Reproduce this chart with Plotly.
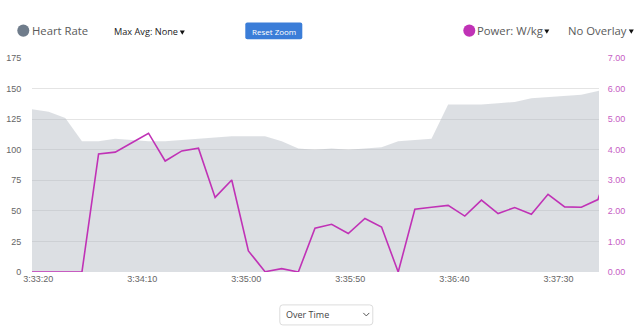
import datetime as dt
import plotly.graph_objects as go

# --- data: one sample every 8 seconds ---
start_time = dt.datetime(2024, 1, 1, 3, 33, 17)
sample_step_s = 8
heart_rate = [133, 131, 126, 107, 107, 109, 108, 107, 107, 108, 109, 110,
              111, 111, 111, 107, 101, 100, 101, 100, 101, 102, 107, 108,
              109, 137, 137, 137, 138, 139, 142, 143, 144, 145, 148, 150]
power_wkg = [0.00, 0.00, 0.00, 0.00, 3.86, 3.92, 4.23, 4.54, 3.63, 3.96,
             4.05, 2.44, 3.01, 0.69, 0.01, 0.11, 0.00, 1.43, 1.56, 1.26,
             1.75, 1.47, 0.00, 2.05, 2.12, 2.18, 1.83, 2.35, 1.91, 2.11,
             1.89, 2.54, 2.13, 2.12, 2.37, 4.00]
hr_ticks = [0, 25, 50, 75, 100, 125, 150, 175]
power_ticks = [0, 1, 2, 3, 4, 5, 6, 7]
time_tick_start = dt.datetime(2024, 1, 1, 3, 33, 20)
time_tick_step_s = 50

times = [start_time + dt.timedelta(seconds=sample_step_s * i) for i in range(len(heart_rate))]
view_end = times[-2] + dt.timedelta(seconds=0.5)

W, H = 640, 330
ML, MR, MT, MB = 31.7, 41.3, 58.3, 58.3
PW, PH = W - ML - MR, H - MT - MB


def px(x):
    return (x - ML) / PW


def py(y):
    return (H - MB - y) / PH


HEART_GREY = "#6f7c8b"
POWER_PURPLE = "#c032b6"
FONT = "Open Sans, Noto Sans, sans-serif"
AXIS_FONT = "Liberation Sans, Arial, sans-serif"
TEXT_PAD = 2.5  # annotation boxes add a little padding around their text

fig = go.Figure()

fig.add_trace(go.Scatter(
    x=times, y=heart_rate, name="Heart Rate", mode="lines",
    line=dict(width=0, color="rgba(0,0,0,0)"),
    fill="tozeroy", fillcolor="rgba(178,184,194,0.45)",
    hoverinfo="skip", yaxis="y",
))
fig.add_trace(go.Scatter(
    x=times, y=power_wkg, name="Power: W/kg", mode="lines",
    line=dict(width=1.6, color=POWER_PURPLE),
    yaxis="y2",
))

fig.update_layout(
    width=W, height=H,
    margin=dict(l=ML, r=MR, t=MT, b=MB, pad=0, autoexpand=False),
    paper_bgcolor="white", plot_bgcolor="white",
    showlegend=False,
    font=dict(family=AXIS_FONT, size=9, color="#666"),
    xaxis=dict(
        type="date", range=[times[0], view_end], automargin=False,
        tick0=time_tick_start, dtick=time_tick_step_s * 1000,
        tickformat="%-H:%M:%S", showgrid=False, zeroline=False,
        showline=False, ticks="",
        tickfont=dict(family=AXIS_FONT, size=9, color="#666"),
        fixedrange=True,
    ),
    yaxis=dict(
        range=[0, 175], tickvals=hr_ticks, showgrid=True, automargin=False,
        gridcolor="#e4e4e4", gridwidth=1, zeroline=False, showline=False,
        ticks="outside", ticklen=8, tickcolor="rgba(0,0,0,0)",
        tickfont=dict(family=AXIS_FONT, size=9, color="#666"),
        fixedrange=True,
    ),
    yaxis2=dict(
        range=[0, 7], tickvals=power_ticks, tickformat=".2f", automargin=False,
        overlaying="y", side="right", showgrid=False, zeroline=False,
        showline=False, ticks="outside", ticklen=6,
        tickcolor="rgba(0,0,0,0)",
        tickfont=dict(family=AXIS_FONT, size=9, color="#c660c4"),
        fixedrange=True,
    ),
)

shapes = []
annotations = []


def circle(cx, cy, r, color):
    shapes.append(dict(type="circle", xref="paper", yref="paper",
                       x0=px(cx - r), x1=px(cx + r), y0=py(cy + r), y1=py(cy - r),
                       fillcolor=color, line=dict(width=0), layer="above"))


def label(x, y, text, size, color, anchor="left", family=FONT):
    if anchor == "left":
        x -= TEXT_PAD
    annotations.append(dict(x=px(x), y=py(y), xref="paper", yref="paper",
                            text=text, showarrow=False, xanchor=anchor,
                            yanchor="middle",
                            font=dict(family=family, size=size, color=color)))


def caret(x, y, w=5, h=4, color="#111"):
    x0, x1, xm = px(x - w / 2), px(x + w / 2), px(x)
    y0, y1 = py(y - h / 2), py(y + h / 2)
    shapes.append(dict(type="path", xref="paper", yref="paper",
                       path=f"M {x0},{y0} L {x1},{y0} L {xm},{y1} Z",
                       fillcolor=color, line=dict(width=0)))


def rounded_rect(x0, y0, x1, y1, r, fill, border):
    def P(x, y):
        return f"{px(x)},{py(y)}"
    path = (f"M {P(x0 + r, y0)} L {P(x1 - r, y0)} Q {P(x1, y0)} {P(x1, y0 + r)} "
            f"L {P(x1, y1 - r)} Q {P(x1, y1)} {P(x1 - r, y1)} "
            f"L {P(x0 + r, y1)} Q {P(x0, y1)} {P(x0, y1 - r)} "
            f"L {P(x0, y0 + r)} Q {P(x0, y0)} {P(x0 + r, y0)} Z")
    shapes.append(dict(type="path", xref="paper", yref="paper", path=path,
                       fillcolor=fill,
                       line=dict(width=1 if border else 0, color=border or fill)))


# header: series pickers and reset button
circle(23, 31, 6, HEART_GREY)
label(32, 31, "Heart Rate", 11.3, "#5a5a5a")
label(114, 32, "Max Avg: None", 9.2, "#222")
caret(182, 33)

rounded_rect(245, 23, 302, 39.5, 2, "#3b7dd8", None)
label(273.5, 31.5, "Reset Zoom", 8, "white", anchor="center")

circle(469, 31, 6, POWER_PURPLE)
label(477, 31, "Power: W/kg", 11.3, "#5a5a5a")
caret(546.5, 32)
label(568, 31, "No Overlay", 11.3, "#5a5a5a")
caret(631, 32)

# footer: view selector
rounded_rect(279.5, 304.5, 372.5, 324.5, 3, "white", "#dcdcdc")
label(286, 314.5, "Over Time", 9, "#444")
cx, cy = 366, 314
shapes.append(dict(type="path", xref="paper", yref="paper",
                   path=f"M {px(cx - 3)},{py(cy - 1.5)} L {px(cx)},{py(cy + 1.5)} "
                        f"L {px(cx + 3)},{py(cy - 1.5)}",
                   line=dict(width=1, color="#555")))

fig.update_layout(shapes=shapes, annotations=annotations)

fig.write_html("out.html", config={"displayModeBar": False})
